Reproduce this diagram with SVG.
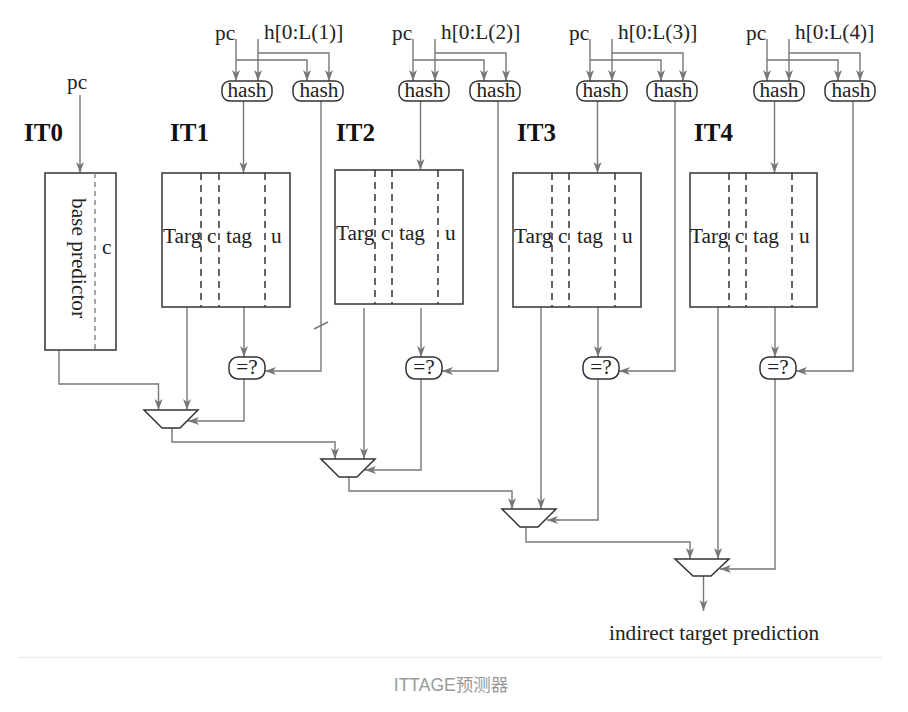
<svg xmlns="http://www.w3.org/2000/svg" width="908" height="712" viewBox="0 0 908 712">
<style>
text{font-family:"Liberation Serif","Times New Roman",serif;font-size:21.300px;fill:#222}
.t{font-weight:bold;font-size:25px;fill:#111}
.box{fill:#fff;stroke:#333;stroke-width:1.5}
.mux{fill:none;stroke:#333;stroke-width:1.5}
.d{fill:none;stroke:#333;stroke-width:1.5;stroke-dasharray:7 5}
.dg{fill:none;stroke:#888;stroke-width:1.5;stroke-dasharray:5 4}
.w{fill:none;stroke:#777;stroke-width:1.4}
.a{marker-end:url(#ar)}
.m{text-anchor:middle}
</style>
<defs>
<marker id="ar" markerUnits="userSpaceOnUse" markerWidth="12" markerHeight="10" refX="11" refY="4" orient="auto">
<path d="M0,0 L11,4 L0,8 L3,4 Z" fill="#777"/>
</marker>
</defs>
<rect width="908" height="712" fill="#fff"/>
<g id="connectors">
<path class="w a" d="M80,95V173"/>
<path class="w a" d="M59,350V384H158.500V410"/>
<path class="w a" d="M187,307V410"/>
<path class="w a" d="M244,307V357"/>
<path class="w a" d="M321,101V371H265"/>
<path class="w" d="M314,329L328,322"/>
<path class="w a" d="M244,379V421H188"/>
<path class="w a" d="M172,428V442H335V459"/>
<path class="w a" d="M364,308V459"/>
<path class="w a" d="M421,308V357"/>
<path class="w a" d="M498,101V371H442"/>
<path class="w a" d="M421,379V470H365"/>
<path class="w a" d="M349,477V491H512V509"/>
<path class="w a" d="M541,307V509"/>
<path class="w a" d="M598,307V357"/>
<path class="w a" d="M675,101V371H619"/>
<path class="w a" d="M598,379V520H547"/>
<path class="w a" d="M526,527V542H690V559"/>
<path class="w a" d="M718,307V559"/>
<path class="w a" d="M775,307V357"/>
<path class="w a" d="M853,101V371H796"/>
<path class="w a" d="M775,379V569H720"/>
<path class="w a" d="M703.500,576V611"/>
<path class="w a" d="M236,39V81"/><path class="w a" d="M258,39V81"/><path class="w a" d="M258,53H329V81"/><path class="w a" d="M236,60H307V81"/>
<path class="w a" d="M243.500,101V173"/>
<path class="w a" d="M413,39V81"/><path class="w a" d="M435,39V81"/><path class="w a" d="M435,53H506V81"/><path class="w a" d="M413,60H484V81"/>
<path class="w a" d="M420.500,101V170"/>
<path class="w a" d="M590,39V81"/><path class="w a" d="M612,39V81"/><path class="w a" d="M612,53H683V81"/><path class="w a" d="M590,60H661V81"/>
<path class="w a" d="M597.500,101V173"/>
<path class="w a" d="M767,39V81"/><path class="w a" d="M789,39V81"/><path class="w a" d="M789,53H860V81"/><path class="w a" d="M767,60H838V81"/>
<path class="w a" d="M774.500,101V173"/>
</g>
<g id="it0">
<text x="67" y="89">pc</text>
<text class="t" x="24" y="141">IT0</text>
<rect class="box" x="45" y="173" width="71" height="177"/>
<path class="dg" d="M95,173V350"/>
<text transform="translate(72,198) rotate(90)">base predictor</text>
<text x="102" y="254">c</text>
</g>
<g id="it1">
<text x="215" y="40">pc</text>
<text x="264" y="39">h[0:L(1)]</text>
<text class="t" x="170" y="141">IT1</text>
<rect class="box" x="222" y="81" width="50" height="20" rx="8"/><text class="m" x="247" y="97">hash</text>
<rect class="box" x="293" y="81" width="50" height="20" rx="8"/><text class="m" x="319" y="97">hash</text>
<rect class="box" x="162" y="173" width="128" height="134"/>
<path class="d" d="M201,173V307M219,173V307M265,173V307"/>
<text x="163" y="243">Targ</text><text x="207" y="243">c</text><text x="226" y="243">tag</text><text x="271" y="243">u</text>
</g>
<g id="it2">
<text x="392" y="40">pc</text>
<text x="441" y="39">h[0:L(2)]</text>
<text class="t" x="336" y="141">IT2</text>
<rect class="box" x="399" y="81" width="50" height="20" rx="8"/><text class="m" x="424" y="97">hash</text>
<rect class="box" x="470" y="81" width="50" height="20" rx="8"/><text class="m" x="496" y="97">hash</text>
<rect class="box" x="335" y="170" width="128" height="134"/>
<path class="d" d="M375,170V304M392,170V304M438,170V304"/>
<text x="336" y="240">Targ</text><text x="381" y="240">c</text><text x="399" y="240">tag</text><text x="445" y="240">u</text>
</g>
<g id="it3">
<text x="569" y="40">pc</text>
<text x="618" y="39">h[0:L(3)]</text>
<text class="t" x="517" y="141">IT3</text>
<rect class="box" x="577" y="81" width="50" height="20" rx="8"/><text class="m" x="602" y="97">hash</text>
<rect class="box" x="647" y="81" width="50" height="20" rx="8"/><text class="m" x="673" y="97">hash</text>
<rect class="box" x="513" y="173" width="128" height="134"/>
<path class="d" d="M552,173V307M569,173V307M615,173V307"/>
<text x="514" y="243">Targ</text><text x="558" y="243">c</text><text x="577" y="243">tag</text><text x="622" y="243">u</text>
</g>
<g id="it4">
<text x="746" y="40">pc</text>
<text x="795" y="39">h[0:L(4)]</text>
<text class="t" x="694" y="141">IT4</text>
<rect class="box" x="754" y="81" width="50" height="20" rx="8"/><text class="m" x="779" y="97">hash</text>
<rect class="box" x="825" y="81" width="50" height="20" rx="8"/><text class="m" x="851" y="97">hash</text>
<rect class="box" x="690" y="173" width="127" height="134"/>
<path class="d" d="M729,173V307M746,173V307M792,173V307"/>
<text x="690" y="243">Targ</text><text x="735" y="243">c</text><text x="753" y="243">tag</text><text x="799" y="243">u</text>
</g>
<g id="cmp1"><rect class="box" x="229" y="357" width="36" height="22" rx="9"/><text class="m" x="247" y="374">=?</text></g>
<g id="cmp2"><rect class="box" x="406" y="357" width="36" height="22" rx="9"/><text class="m" x="424" y="374">=?</text></g>
<g id="cmp3"><rect class="box" x="583" y="357" width="36" height="22" rx="9"/><text class="m" x="601" y="374">=?</text></g>
<g id="cmp4"><rect class="box" x="760" y="357" width="36" height="22" rx="9"/><text class="m" x="778" y="374">=?</text></g>
<g id="mux1"><path class="mux" d="M144,410H198L180,428H162Z"/></g>
<g id="mux2"><path class="mux" d="M321,459H375L357,477H339Z"/></g>
<g id="mux3"><path class="mux" d="M502,509H556L538,527H520Z"/></g>
<g id="mux4"><path class="mux" d="M675,559H729L711,576H693Z"/></g>
<g id="output"><text x="609" y="640">indirect target prediction</text></g>
<path d="M18,657.500H882" stroke="#eee" stroke-width="1.500" fill="none"/>
<text x="451" y="691" class="m" style="font-family:'Liberation Sans','Noto Sans CJK SC',sans-serif;font-size:17.500px;fill:#999">ITTAGE预测器</text>
</svg>
